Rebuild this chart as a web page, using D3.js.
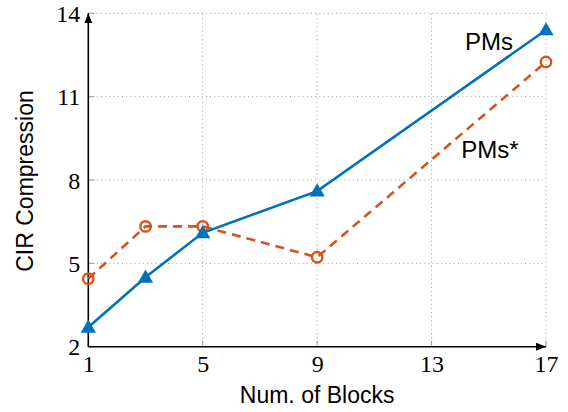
<!DOCTYPE html>
<html>
<head>
<meta charset="utf-8">
<script src="https://cdn.jsdelivr.net/npm/d3@7"></script>
<style>
  html, body { margin: 0; padding: 0; background: #fff; }
  svg { display: block; }
</style>
</head>
<body>
<svg id="chart" width="568" height="412"></svg>
<script>
const blocks = [1, 3, 5, 9, 17];
const pms = [2.7, 4.5, 6.1, 7.6, 13.4];
const pmsStar = [4.45, 6.33, 6.33, 5.22, 12.25];
const xTicks = [1, 5, 9, 13, 17];
const yTicks = [2, 5, 8, 11, 14];
const seriesNames = ["PMs", "PMs*"];

const svg = d3.select("#chart");
const plotL = 88.3, plotR = 546, plotT = 13.3, plotB = 346.7;

const x = d3.scaleLinear().domain([1, 17]).range([plotL, plotR]);
const y = d3.scaleLinear().domain([2, 14]).range([plotB, plotT]);

const blue = "#0072BD", orange = "#D95319";

// grid
const grid = svg.append("g");
grid.selectAll(".gx").data(xTicks.slice(1)).join("line")
  .attr("x1", d => x(d)).attr("x2", d => x(d))
  .attr("y1", plotB).attr("y2", plotT)
  .attr("stroke", "#9a9a9a").attr("stroke-width", 1)
  .attr("stroke-dasharray", "1,3.2");
grid.selectAll(".gy").data(yTicks.slice(1)).join("line")
  .attr("x1", plotL).attr("x2", plotR)
  .attr("y1", d => y(d)).attr("y2", d => y(d))
  .attr("stroke", "#9a9a9a").attr("stroke-width", 1)
  .attr("stroke-dasharray", "1,3.2");

// small inner ticks
grid.selectAll(".tx").data(xTicks).join("line")
  .attr("x1", d => x(d)).attr("x2", d => x(d))
  .attr("y1", plotB).attr("y2", plotB - 6)
  .attr("stroke", "#9a9a9a").attr("stroke-width", 1);
grid.selectAll(".ty").data(yTicks).join("line")
  .attr("x1", plotL).attr("x2", plotL + 6)
  .attr("y1", d => y(d)).attr("y2", d => y(d))
  .attr("stroke", "#9a9a9a").attr("stroke-width", 1);

// axes via d3 axis (labels only)
const xAxis = d3.axisBottom(x).tickValues(xTicks).tickSize(0).tickPadding(10).tickFormat(d3.format("d"));
const yAxis = d3.axisLeft(y).tickValues(yTicks).tickSize(0).tickPadding(8).tickFormat(d3.format("d"));
const gx = svg.append("g").attr("transform", `translate(0,${plotB})`).call(xAxis);
const gy = svg.append("g").attr("transform", `translate(${plotL},0)`).call(yAxis);
[gx, gy].forEach(g => {
  g.select(".domain").remove();
  g.selectAll("text").attr("font-family", "'Liberation Serif', 'Times New Roman', serif")
    .attr("font-size", 24).attr("fill", "#000");
});
gx.selectAll("text").attr("dy", null).attr("y", 25);
gy.selectAll("text").attr("dy", "0.34em").attr("x", -8);

// arrow markers
const defs = svg.append("defs");
defs.append("marker").attr("id", "arrow")
  .attr("viewBox", "0 0 10 8").attr("refX", 10).attr("refY", 4)
  .attr("markerWidth", 10).attr("markerHeight", 8)
  .attr("markerUnits", "userSpaceOnUse").attr("orient", "auto")
  .append("path").attr("d", "M0,0 L10,4 L0,8 Z").attr("fill", "#000");

svg.append("line").attr("x1", plotL).attr("x2", plotR).attr("y1", plotB).attr("y2", plotB)
  .attr("stroke", "#000").attr("stroke-width", 1.6).attr("marker-end", "url(#arrow)");
svg.append("line").attr("x1", plotL).attr("x2", plotL).attr("y1", plotB).attr("y2", plotT)
  .attr("stroke", "#000").attr("stroke-width", 1.6).attr("marker-end", "url(#arrow)");

// lines
const line = d3.line().x(d => x(d[0])).y(d => y(d[1]));
const dStar = blocks.map((b, i) => [b, pmsStar[i]]);
const dPms = blocks.map((b, i) => [b, pms[i]]);

svg.append("path").datum(dStar).attr("d", line)
  .attr("fill", "none").attr("stroke", orange).attr("stroke-width", 2.6)
  .attr("stroke-dasharray", "9,6");
svg.selectAll(".circ").data(dStar).join("circle")
  .attr("cx", d => x(d[0])).attr("cy", d => y(d[1])).attr("r", 5.2)
  .attr("fill", "none").attr("stroke", orange).attr("stroke-width", 2.4);

svg.append("path").datum(dPms).attr("d", line)
  .attr("fill", "none").attr("stroke", blue).attr("stroke-width", 2.6);
const tri = d3.symbol().type(d3.symbolTriangle).size(60);
svg.selectAll(".tri").data(dPms).join("path")
  .attr("d", tri)
  .attr("transform", d => `translate(${x(d[0])},${y(d[1]) + 1})`)
  .attr("fill", blue).attr("stroke", blue).attr("stroke-width", 2)
  .attr("stroke-linejoin", "miter");

// labels
const sans = "'Liberation Sans', Arial, Helvetica, sans-serif";
svg.append("text").attr("x", 489).attr("y", 50).attr("text-anchor", "middle")
  .attr("font-family", sans).attr("font-size", 24).text(seriesNames[0]);
svg.append("text").attr("x", 490).attr("y", 158).attr("text-anchor", "middle")
  .attr("font-family", sans).attr("font-size", 24).text(seriesNames[1]);

svg.append("text").attr("x", (plotL + plotR) / 2).attr("y", 403).attr("text-anchor", "middle")
  .attr("font-family", sans).attr("font-size", 23).text("Num. of Blocks");
svg.append("text").attr("transform", `translate(33,${(plotT + plotB) / 2 + 1}) rotate(-90)`)
  .attr("text-anchor", "middle")
  .attr("font-family", sans).attr("font-size", 23).text("CIR Compression");
</script>
</body>
</html>
